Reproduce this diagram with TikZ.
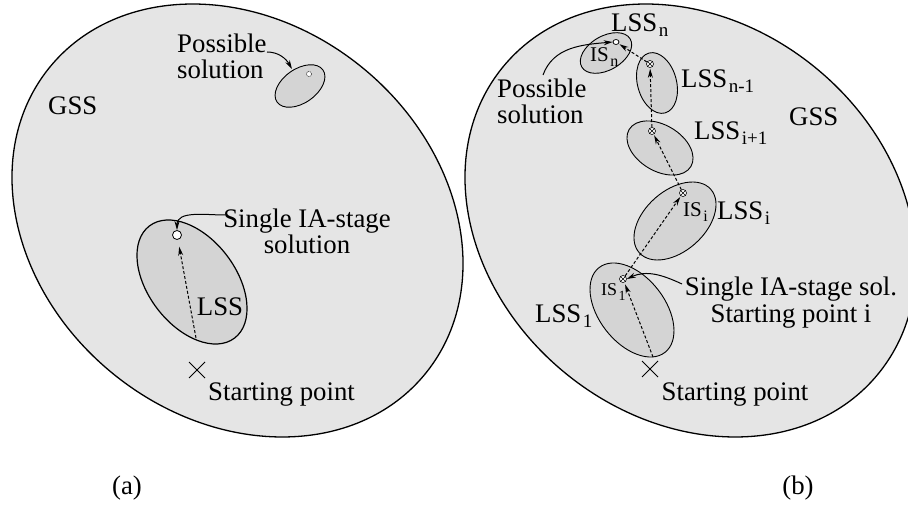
\documentclass[tikz,border=0pt]{standalone}
\usepackage{fontspec}
\setmainfont{Liberation Serif}
\usetikzlibrary{shapes.geometric,shapes.misc,arrows.meta}
\newcommand\mysub[2][19]{\kern1.5pt\raisebox{-5pt}{\fontsize{#1}{#1}\selectfont #2}}
\begin{document}
\begin{tikzpicture}[x=1pt,y=1pt,
 bigell/.style={ellipse,draw,line width=1.3pt,fill=black!10,inner sep=0pt},
 smell/.style={ellipse,draw,line width=0.9pt,fill=black!17,inner sep=0pt},
 wdot/.style={circle,draw,fill=white,inner sep=0pt,line width=0.8pt},
 xdot/.style={circle,draw,fill=white,inner sep=0pt,minimum size=7pt,line width=0.6pt,
   path picture={\draw[line width=0.5pt] (path picture bounding box.north west)--(path picture bounding box.south east)
   (path picture bounding box.north east)--(path picture bounding box.south west);}},
 lbl/.style={inner sep=0pt,font=\fontsize{26.8}{26.8}\selectfont},
 dasharrow/.style={dash pattern=on 3pt off 2pt,line width=1pt,-{Stealth[length=9pt,width=5pt]}},
 curvearrow/.style={line width=1pt,-{Stealth[length=9pt,width=5pt]}},
 xmark/.style={cross out,draw,line width=1pt,minimum size=15pt,inner sep=0pt}
]
\useasboundingbox (0,0) rectangle (908,504);
\clip (0,0) rectangle (908,504);

% ---------- (a) ----------
\node[bigell,minimum width=484.8pt,minimum height=394.8pt,rotate=-39.2] (gssa) at (237.5,283.5) {};
\node[smell,minimum width=56pt,minimum height=34pt,rotate=35] (pea) at (300,418) {};
\node[circle,draw,fill=white,inner sep=0pt,minimum size=5pt,line width=0.5pt,dash pattern=on 1.2pt off 0.8pt] (spa) at (309,430) {};
\node[smell,line width=1.2pt,minimum width=140.8pt,minimum height=87.6pt,rotate=-52.8] (lssa) at (192,222) {};
\node[wdot,minimum size=9pt] (ca) at (177,269) {};
\node[xmark] (xa) at (197,134) {};
\coordinate (sa) at (196,166);

\node[lbl,anchor=base west] (gssla) at (48,389) {GSS};
\node[lbl,anchor=base west,align=left] (posa) at (177,425) {Possible\\solution};
\node[lbl,anchor=base] (lssla) at (220,189) {LSS};
\node[lbl,anchor=base,align=center] (sia) at (307,250) {Single IA-stage\\solution};
\node[lbl,anchor=base] (sta) at (281.5,104) {Starting point};
\node[lbl] (laba) at (127,16) {(a)};

\coordinate (pa-s) at (267,452);
\coordinate (pa-e) at (292,435);
\coordinate (sia-s) at (225,289);
\draw[curvearrow] (pa-s) to[out=0,in=120] (pa-e);
\draw[curvearrow] (sia-s) to[out=180,in=90] (ca.north);
\draw[dasharrow,shorten >=7pt] (sa) -- (ca);

% ---------- (b) ----------
\node[bigell,minimum width=484.8pt,minimum height=394.8pt,rotate=-39.2] (gssb) at (690.5,283.5) {};
\node[smell,minimum width=56pt,minimum height=34pt,rotate=30] (en) at (606,451) {};
\node[smell,minimum width=62pt,minimum height=39pt,rotate=-75] (en1) at (657,421) {};
\node[smell,minimum width=72pt,minimum height=46pt,rotate=-31] (ei1) at (660,356) {};
\node[smell,minimum width=95.6pt,minimum height=60.6pt,rotate=41.6] (ei) at (675,283) {};
\node[smell,minimum width=107.4pt,minimum height=66pt,rotate=-52.2] (e1) at (632,194) {};

\node[ellipse,draw,fill=white,inner sep=0pt,minimum width=6pt,minimum height=5pt,line width=0.7pt] (cn) at (616,462) {};
\node[xdot] (cn1) at (650,440) {};
\node[xdot] (ci1) at (652,373) {};
\node[xdot] (ci) at (683,311) {};
\node[xdot] (c1) at (623,225) {};
\node[xmark] (xb) at (650,135) {};
\coordinate (sb) at (653,147);

\node[lbl,anchor=base west] (lssn) at (611,472) {LSS\mysub{n}};
\node[lbl,anchor=base west,font=\fontsize{21}{21}\selectfont] (isn) at (590,442) {IS\mysub[16]{n}};
\node[lbl,anchor=base west] (lssn1) at (681,416) {LSS\mysub{n-1}};
\node[lbl,anchor=base west] (lssi1) at (694,364) {LSS\mysub{i+1}};
\node[lbl,anchor=base west,font=\fontsize{21}{21}\selectfont] (isi) at (683,287) {IS\mysub[16]{i}};
\node[lbl,anchor=base west] (lssi) at (717,284) {LSS\mysub{i}};
\node[lbl,anchor=base west,font=\fontsize{18}{18}\selectfont] (is1) at (601,208) {IS\mysub[14]{1}};
\node[lbl,anchor=base west] (lss1) at (535,181) {LSS\mysub{1}};
\node[lbl,anchor=base west] (gsslb) at (789,378) {GSS};
\node[lbl,anchor=base west,align=left] (posb) at (497,380) {Possible\\solution};
\node[lbl,anchor=base,align=center,font=\fontsize{26.8}{28}\selectfont] (sib) at (791,181) {Single IA-stage sol.\\Starting point i};
\node[lbl,anchor=base] (stb) at (735,104) {Starting point};
\node[lbl] (labb) at (798,16) {(b)};

\coordinate (pb-s) at (543,429);
\coordinate (sb-s) at (682,220);
\draw[curvearrow] (pb-s) to[out=70,in=185] (cn.west);
\draw[curvearrow] (sb-s) to[out=155,in=25] (c1.east);

\draw[dasharrow,shorten >=2pt] (sb) -- (c1);
\draw[dasharrow,shorten >=1pt] (c1) -- (ci);
\draw[dasharrow,shorten >=1pt] (ci) -- (ci1);
\draw[dasharrow,shorten >=1pt] (ci1) -- (cn1);
\draw[dasharrow,shorten >=1pt] (cn1) -- (cn);
\end{tikzpicture}
\end{document}
